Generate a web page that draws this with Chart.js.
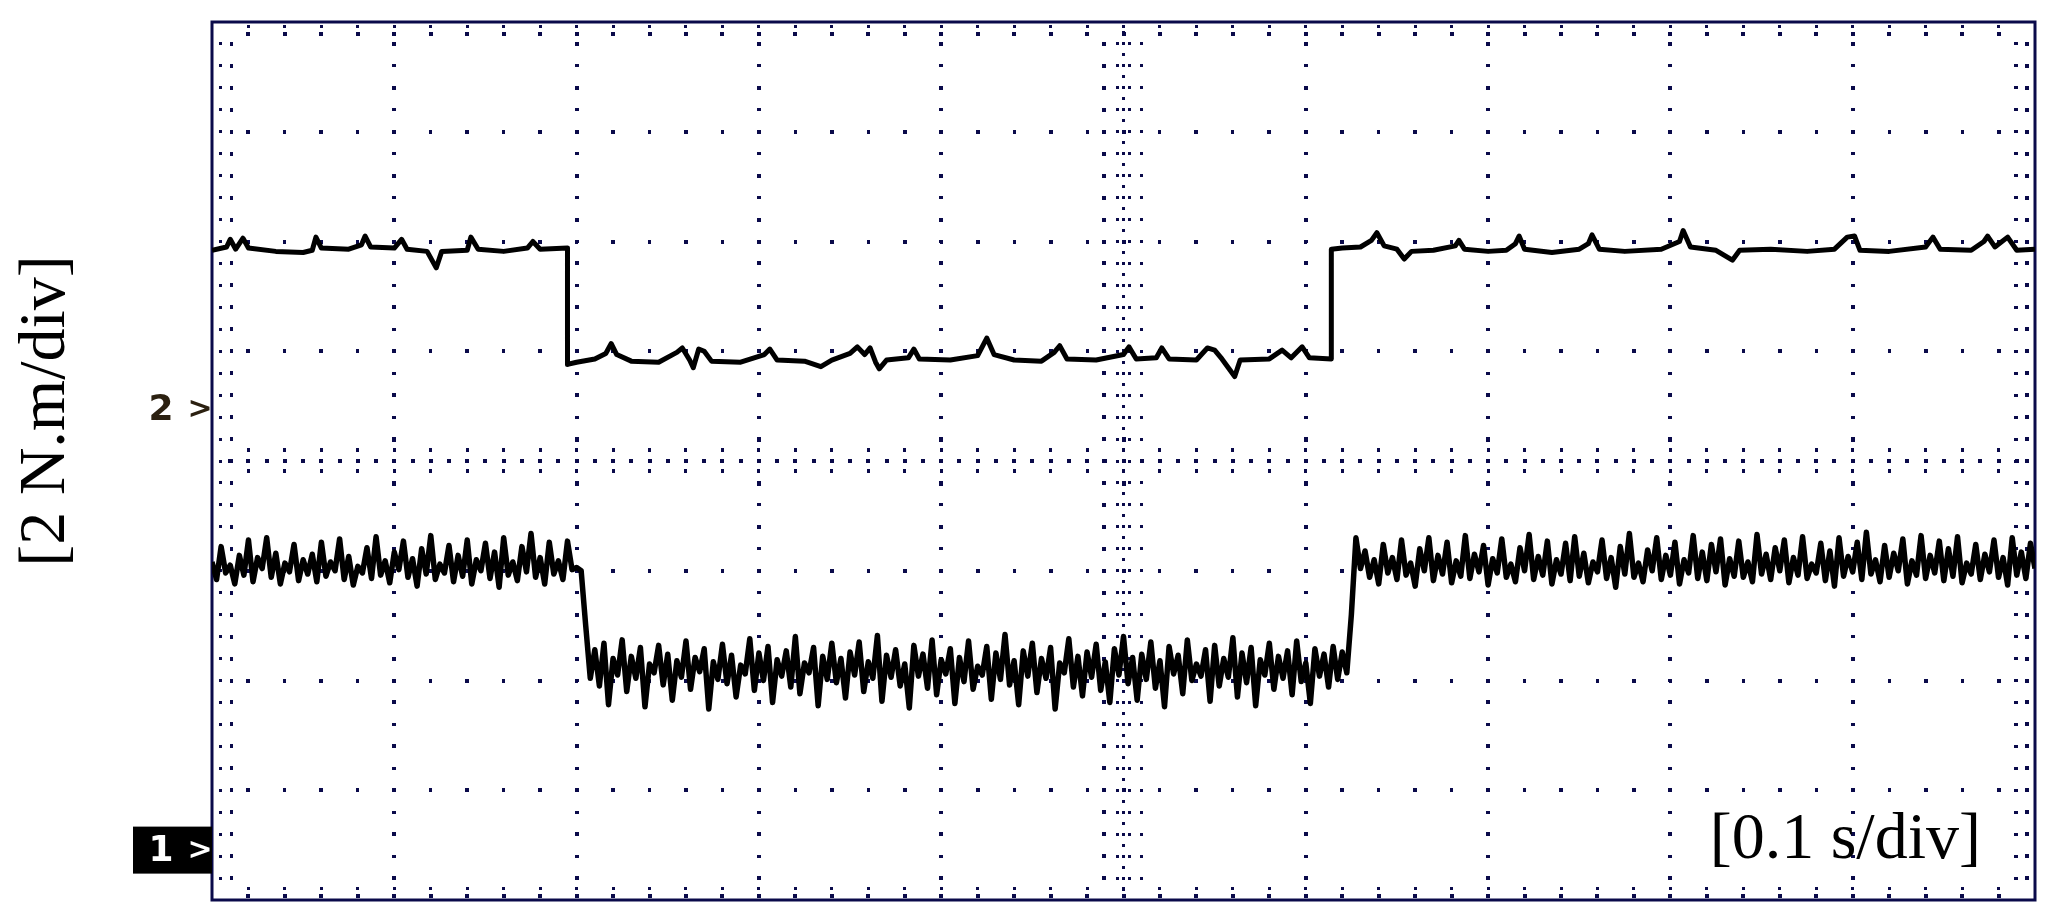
<!DOCTYPE html>
<html>
<head>
  <meta charset="utf-8">
  <title>Scope capture</title>
  <script src="https://cdn.jsdelivr.net/npm/chart.js"></script>
  <style>
    html, body {
      margin: 0;
      padding: 0;
      background: #ffffff;
    }

    #wrap {
      position: relative;
      width: 2054px;
      height: 918px;
    }
  </style>
</head>
<body>
  <div id="wrap"><canvas id="scope"></canvas></div>

  <script>
    // screen in divisions: 10 across (0.1 s/div), 8 high (2 N.m/div)
    const timeDivs = [0, 10];
    const levelDivs = [-4, 4];

    // channel 2 (upper trace), read as time/level pairs in divisions
    const ch2Time = [
      0, 0.08, 0.10, 0.13, 0.17, 0.20, 0.35, 0.50, 0.55, 0.57, 0.60, 0.75, 0.82, 0.84, 0.87, 1.00,
      1.04, 1.07, 1.18, 1.23, 1.26, 1.40, 1.42, 1.46, 1.60, 1.73, 1.76, 1.80, 1.95,
      1.95, 2.00, 2.10, 2.16, 2.19, 2.22, 2.30, 2.45, 2.55, 2.58, 2.62, 2.64, 2.67, 2.70, 2.74, 2.90,
      3.03, 3.06, 3.10, 3.25, 3.34, 3.40, 3.50, 3.54, 3.58, 3.61, 3.64, 3.66, 3.70, 3.82, 3.85, 3.88,
      4.05, 4.20, 4.25, 4.29, 4.40, 4.55, 4.62, 4.65, 4.69, 4.85, 5.00, 5.03, 5.07, 5.18, 5.21, 5.25,
      5.40, 5.46, 5.50, 5.54, 5.61, 5.64, 5.80, 5.87, 5.92, 5.98, 6.02, 6.14,
      6.14, 6.20, 6.30, 6.36, 6.39, 6.43, 6.50, 6.54, 6.58, 6.70, 6.82, 6.84, 6.87, 7.00, 7.10, 7.15,
      7.17, 7.20, 7.35, 7.50, 7.55, 7.57, 7.61, 7.75, 7.95, 8.05, 8.07, 8.11, 8.25, 8.34, 8.38, 8.55,
      8.75, 8.90, 8.97, 9.01, 9.04, 9.20, 9.40, 9.44, 9.48, 9.65, 9.72, 9.74, 9.78, 9.85, 9.90, 10.00
    ];
    const ch2Level = [
      1.92, 1.95, 2.02, 1.93, 2.03, 1.94, 1.91, 1.90, 1.92, 2.04, 1.94, 1.93, 1.97, 2.05, 1.95, 1.94,
      2.02, 1.93, 1.91, 1.76, 1.91, 1.92, 2.04, 1.93, 1.91, 1.94, 2.00, 1.93, 1.94,
      0.88, 0.90, 0.93, 0.98, 1.07, 0.97, 0.91, 0.90, 0.99, 1.03, 0.92, 0.85, 1.02, 1.00, 0.91, 0.90,
      0.97, 1.02, 0.92, 0.91, 0.86, 0.92, 0.98, 1.04, 0.97, 1.03, 0.90, 0.84, 0.92, 0.94, 1.02, 0.93,
      0.92, 0.96, 1.12, 0.97, 0.92, 0.91, 0.99, 1.05, 0.93, 0.92, 0.97, 1.04, 0.93, 0.94, 1.03, 0.93,
      0.92, 1.03, 1.01, 0.93, 0.77, 0.92, 0.93, 1.01, 0.94, 1.04, 0.94, 0.93,
      1.93, 1.94, 1.95, 2.01, 2.08, 1.96, 1.93, 1.84, 1.91, 1.92, 1.96, 2.01, 1.93, 1.91, 1.92, 1.98,
      2.05, 1.93, 1.90, 1.93, 1.98, 2.06, 1.93, 1.91, 1.93, 2.00, 2.10, 1.95, 1.92, 1.83, 1.92, 1.93,
      1.91, 1.93, 2.04, 2.05, 1.92, 1.91, 1.95, 2.04, 1.93, 1.92, 2.00, 2.05, 1.95, 2.04, 1.92, 1.93
    ];

    // channel 1 (lower, noisy trace), one sample every 0.025 div
    const ch1Step = 0.025;
    const ch1Level = [
      -0.92, -1.08, -0.78, -1.02, -0.95, -1.12, -0.86, -1.04, -0.72, -1.10, -0.88, -0.98, -0.70, -1.06, -0.84, -1.12,
      -0.93, -1.01, -0.76, -1.09, -0.90, -1.03, -0.85, -1.10, -0.74, -1.05, -0.92, -1.00, -0.71, -1.08, -0.87, -1.13,
      -0.96, -1.02, -0.79, -1.07, -0.69, -1.04, -0.91, -1.11, -0.83, -0.99, -0.73, -1.06, -0.89, -1.14, -0.80, -1.03,
      -0.68, -1.08, -0.94, -1.02, -0.77, -1.10, -0.86, -1.05, -0.72, -1.12, -0.90, -1.00, -0.75, -1.07, -0.83, -1.15,
      -0.70, -1.04, -0.92, -1.09, -0.78, -1.01, -0.66, -1.06, -0.88, -1.12, -0.74, -1.03, -0.91, -1.08, -0.73, -0.99,
      -0.97, -1.00, -1.50, -1.98,
      -1.72, -2.05, -1.66, -2.22, -1.80, -1.95, -1.63, -2.10, -1.78, -1.98, -1.70, -2.24, -1.85, -1.93, -1.68, -2.04,
      -1.76, -2.18, -1.82, -1.97, -1.64, -2.08, -1.79, -1.92, -1.71, -2.26, -1.83, -1.99, -1.67, -2.03, -1.77, -2.15,
      -1.86, -1.94, -1.62, -2.09, -1.75, -2.00, -1.69, -2.20, -1.81, -1.96, -1.73, -2.06, -1.60, -2.12, -1.84, -1.93,
      -1.70, -2.23, -1.78, -1.99, -1.66, -2.02, -1.80, -2.16, -1.74, -1.95, -1.65, -2.10, -1.83, -1.98, -1.59, -2.19,
      -1.77, -1.97, -1.72, -2.05, -1.85, -2.25, -1.68, -1.96, -1.76, -2.07, -1.63, -2.13, -1.81, -1.94, -1.71, -2.21,
      -1.79, -2.01, -1.64, -2.08, -1.87, -1.95, -1.69, -2.17, -1.75, -1.99, -1.58, -2.04, -1.82, -2.22, -1.73, -1.96,
      -1.66, -2.11, -1.80, -1.98, -1.70, -2.26, -1.84, -1.93, -1.62, -2.06, -1.78, -2.14, -1.74, -1.97, -1.67, -2.09,
      -1.83, -2.20, -1.71, -1.95, -1.60, -2.03, -1.79, -2.18, -1.76, -1.99, -1.65, -2.07, -1.82, -2.24, -1.69, -1.94,
      -1.77, -2.12, -1.63, -2.00, -1.85, -1.96, -1.72, -2.19, -1.68, -2.05, -1.80, -1.97, -1.61, -2.15, -1.75, -2.02,
      -1.70, -2.23, -1.81, -1.95, -1.66, -2.08, -1.78, -1.98, -1.73, -2.13, -1.64, -2.01, -1.84, -2.21, -1.71, -1.96,
      -1.76, -2.06, -1.69, -1.99, -1.74, -1.93,
      -1.40, -0.70,
      -0.98, -0.82, -1.06, -0.90, -1.12, -0.76, -1.02, -0.88, -1.08, -0.72, -1.04, -0.93, -1.14, -0.80, -1.00, -0.70,
      -1.09, -0.86, -1.03, -0.74, -1.11, -0.91, -1.05, -0.68, -1.07, -0.85, -1.01, -0.77, -1.13, -0.89, -1.02, -0.71,
      -1.06, -0.94, -1.10, -0.79, -1.00, -0.67, -1.08, -0.87, -1.04, -0.73, -1.12, -0.90, -1.03, -0.75, -1.09, -0.69,
      -1.05, -0.84, -1.11, -0.92, -1.01, -0.72, -1.07, -0.88, -1.15, -0.78, -1.03, -0.66, -1.06, -0.93, -1.10, -0.81,
      -1.00, -0.70, -1.08, -0.86, -1.04, -0.74, -1.12, -0.90, -1.02, -0.68, -1.07, -0.83, -1.09, -0.76, -1.01, -0.71,
      -1.13, -0.89, -1.05, -0.73, -1.06, -0.92, -1.10, -0.67, -1.03, -0.85, -1.08, -0.79, -1.00, -0.72, -1.11, -0.88,
      -1.04, -0.69, -1.07, -0.94, -1.02, -0.75, -1.09, -0.82, -1.14, -0.70, -1.05, -0.87, -1.01, -0.74, -1.08, -0.65,
      -1.03, -0.90, -1.10, -0.77, -1.06, -0.84, -1.00, -0.71, -1.12, -0.91, -1.04, -0.68, -1.07, -0.86, -1.02, -0.73,
      -1.09, -0.80, -1.05, -0.69, -1.11, -0.93, -1.03, -0.76, -1.08, -0.85, -1.01, -0.72, -1.06, -0.88, -1.13, -0.70,
      -1.04, -0.83, -1.07, -0.75, -0.98
    ];

    // channel reference markers on the left edge (level in divisions)
    const markerNames = ['2', '1'];
    const markerLevels = [0.47, -3.55];

    const axisText = '[2 N.m/div]';
    const timeText = '[0.1 s/div]';

    const gridColor = '#0a0a4a';

    const ch2Data = ch2Time.map((t, i) => ({ x: t, y: ch2Level[i] }));
    const ch1Data = ch1Level.map((v, i) => ({ x: i * ch1Step, y: v }));

    // oscilloscope graticule: dotted divisions, ticked centre cross, ticked frame
    const graticule = {
      id: 'graticule',
      beforeDatasetsDraw(chart) {
        const { ctx, chartArea: a, scales: { x, y } } = chart;
        const dot = (px, py, w, h) => ctx.fillRect(Math.round(px - w / 2), Math.round(py - h / 2), w, h);
        ctx.save();
        ctx.fillStyle = gridColor;

        for (let k = 1; k < 10; k++) {
          if (k === 5) continue;
          const px = x.getPixelForValue(k);
          for (let j = 1; j < 40; j++) dot(px, y.getPixelForValue(-4 + j / 5), 4, j % 2 ? 4 : 3);
        }
        for (let k = -3; k <= 3; k++) {
          if (k === 0) continue;
          const py = y.getPixelForValue(k);
          for (let j = 1; j < 50; j++) dot(x.getPixelForValue(j / 5), py, j % 2 ? 4 : 3, 4);
        }

        // centre vertical
        const cx = x.getPixelForValue(5);
        for (let j = 1; j < 80; j++) {
          const py = y.getPixelForValue(-4 + j / 10);
          dot(cx, py, 3, 3);
          if (j % 2 === 0) {
            dot(cx - 20, py, 4, 4);
            dot(cx - 6, py, 3, 3);
            dot(cx + 6, py, 3, 3);
            dot(cx + 18, py, 3, 3);
          }
        }
        // centre horizontal
        const cy = y.getPixelForValue(0);
        for (let j = 1; j < 100; j++) {
          const px = x.getPixelForValue(j / 10);
          dot(px, cy, 4, 4);
          if (j % 2 === 0) {
            dot(px, cy - 11, 3, 4);
            dot(px, cy + 10, 3, 4);
          }
          if (j % 10 === 0) {
            dot(px, cy - 22, 4, 5);
            dot(px, cy + 22, 4, 5);
          }
        }

        // ticks along the frame
        for (let j = 1; j < 40; j++) {
          const py = y.getPixelForValue(-4 + j / 5);
          dot(a.left + 8, py, 3, 3);
          dot(a.left + 19, py, 3, 4);
          dot(a.right - 8, py, 4, 4);
          dot(a.right - 19, py, 4, 3);
        }
        for (let j = 1; j < 50; j++) {
          const px = x.getPixelForValue(j / 5);
          dot(px, a.top + 4, 3, 3);
          dot(px, a.top + 12, 4, 4);
          dot(px, a.bottom - 4, 4, 4);
          dot(px, a.bottom - 12, 3, 3);
        }

        ctx.lineWidth = 3;
        ctx.strokeStyle = gridColor;
        ctx.strokeRect(a.left, a.top, a.right - a.left, a.bottom - a.top);
        ctx.restore();
      }
    };

    const captions = {
      id: 'captions',
      afterDraw(chart) {
        const { ctx, chartArea: a, scales: { y } } = chart;
        ctx.save();
        ctx.fillStyle = '#000000';
        ctx.font = '66px "Liberation Serif", serif';

        ctx.save();
        ctx.translate(47, 411);
        ctx.rotate(-Math.PI / 2);
        ctx.textAlign = 'center';
        ctx.textBaseline = 'middle';
        ctx.fillText(axisText, 0, 0);
        ctx.restore();

        ctx.textAlign = 'right';
        ctx.textBaseline = 'alphabetic';
        ctx.fillText(timeText, a.right - 54, a.bottom - 42);

        // channel markers
        ctx.textBaseline = 'middle';
        markerNames.forEach((name, i) => {
          const py = y.getPixelForValue(markerLevels[i]);
          if (name === '1') {
            ctx.fillStyle = '#000000';
            ctx.fillRect(a.left - 79, py - 24, 79, 47);
            ctx.fillStyle = '#ffffff';
          } else {
            ctx.fillStyle = '#2b2010';
          }
          ctx.textAlign = 'center';
          ctx.font = 'bold 36px "DejaVu Sans", sans-serif';
          ctx.fillText(name, a.left - 51, py + 1);
          ctx.font = 'bold 30px "DejaVu Sans", sans-serif';
          ctx.fillText('>', a.left - 12, py + 1);
        });
        ctx.restore();
      }
    };

    const ctx = document.getElementById('scope').getContext('2d');
    new Chart(ctx, {
      type: 'line',
      data: {
        datasets: [
          {
            label: 'CH2',
            data: ch2Data,
            borderColor: '#000000',
            borderWidth: 5,
            borderJoinStyle: 'round',
            pointRadius: 0,
            tension: 0
          },
          {
            label: 'CH1',
            data: ch1Data,
            borderColor: '#000000',
            borderWidth: 5.5,
            borderJoinStyle: 'round',
            pointRadius: 0,
            tension: 0
          }
        ]
      },
      options: {
        responsive: true,
        maintainAspectRatio: false,
        animation: false,
        layout: {
          padding: { left: 212, right: 19, top: 22, bottom: 18 }
        },
        plugins: {
          legend: { display: false },
          tooltip: { enabled: false }
        },
        scales: {
          x: {
            type: 'linear',
            min: timeDivs[0],
            max: timeDivs[1],
            display: false
          },
          y: {
            min: levelDivs[0],
            max: levelDivs[1],
            display: false
          }
        }
      },
      plugins: [graticule, captions]
    });
  </script>
</body>
</html>
